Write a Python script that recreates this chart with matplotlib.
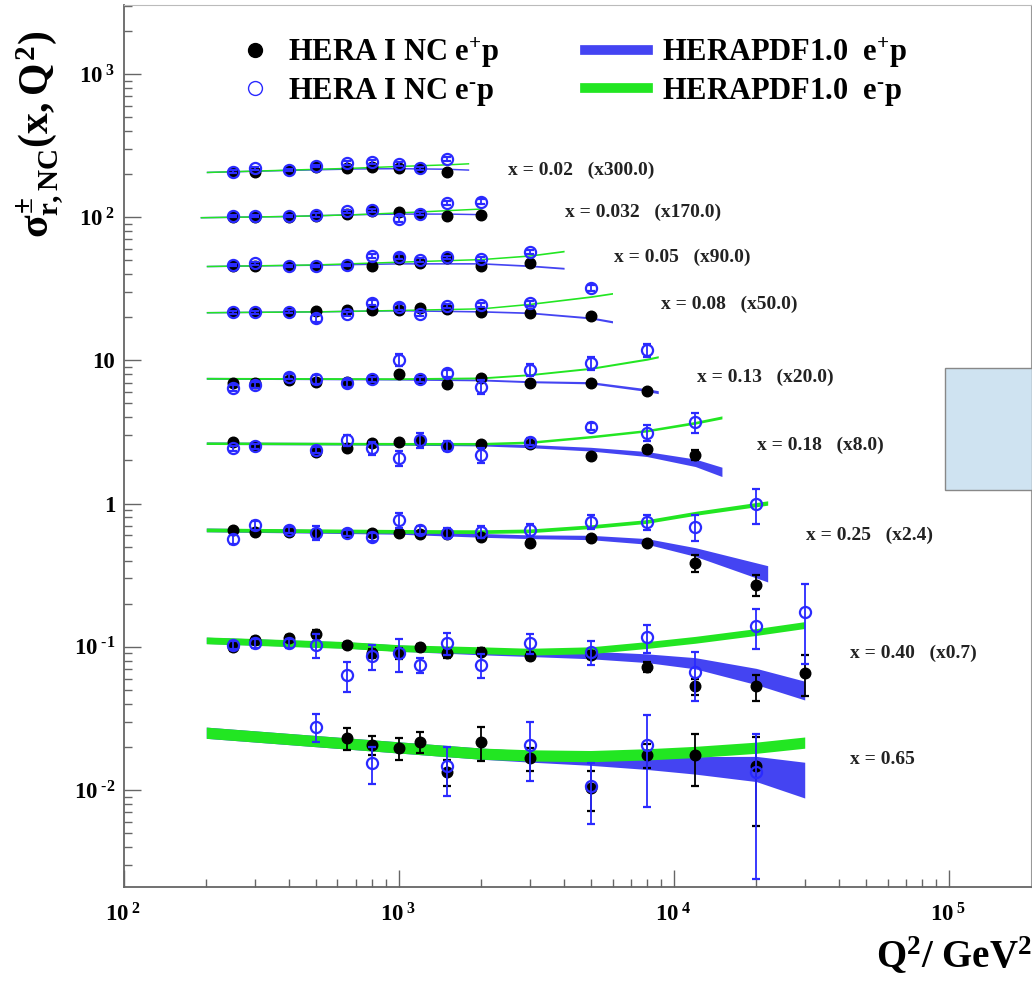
import matplotlib
matplotlib.use("Agg")
import numpy as np
import matplotlib.pyplot as plt
from matplotlib.lines import Line2D
from matplotlib.patches import Rectangle
from matplotlib.ticker import LogLocator, FixedLocator, NullFormatter, FuncFormatter

# ---------------- data (values as displayed, i.e. already scaled) ----------------
# x = 0.02 (x300)
Q2_002 = [250, 300, 400, 500, 650, 800, 1000, 1200, 1500]
EP_002 = [208, 208, 214, 223, 219, 223, 219, 219, 208]
EP_ERR_002 = [2, 2, 2, 3, 3, 3, 3, 3, 4]
EM_002 = [208, 219, 214, 228, 240, 244, 235, 219, 254]
EM_ERR_002 = [4, 5, 4, 5, 7, 7, 8, 7, 8]
CQ_002 = [200, 400, 700, 1000, 1500, 1800]
CEP_002 = [207, 214, 219, 220, 218, 215]
CEM_002 = [207, 215, 222, 228, 234, 238]
WEP_002 = [0.012, 0.012, 0.012, 0.012, 0.012, 0.012]
WEM_002 = [0.012, 0.012, 0.012, 0.012, 0.012, 0.012]

# x = 0.032 (x170)
Q2_0032 = [250, 300, 400, 500, 650, 800, 1000, 1200, 1500, 2000]
EP_0032 = [101, 101, 101, 102, 105, 110, 109, 106, 102, 104]
EP_ERR_0032 = [1.5, 1.5, 1.5, 1.5, 1.5, 2, 2, 2, 2, 2]
EM_0032 = [102, 102, 102, 104, 110, 112, 97, 106, 125, 128]
EM_ERR_0032 = [2, 2, 2, 3, 3, 3, 5, 3, 4, 5]
CQ_0032 = [190, 400, 700, 1000, 1500, 2000]
CEP_0032 = [100, 102, 105, 106, 106, 105]
CEM_0032 = [100, 102, 105, 108, 112, 115]
WEP_0032 = [0.012, 0.012, 0.012, 0.012, 0.012, 0.012]
WEM_0032 = [0.012, 0.012, 0.012, 0.012, 0.012, 0.012]

# x = 0.05 (x90)
Q2_005 = [250, 300, 400, 500, 650, 800, 1000, 1200, 1500, 2000, 3000]
EP_005 = [45.6, 45.6, 45.6, 45.6, 46.4, 45.6, 50.8, 48.1, 51.6, 45.6, 48.1]
EP_ERR_005 = [0.7, 0.7, 0.7, 0.7, 0.7, 0.8, 0.9, 0.9, 0.9, 1.0, 1.0]
EM_005 = [46.4, 47.6, 45.6, 45.6, 46.4, 53.6, 53.0, 50.2, 52.5, 51.1, 57.4]
EM_ERR_005 = [1.0, 1.0, 1.0, 1.0, 1.0, 1.5, 2.0, 1.5, 1.5, 1.5, 2.0]
CQ_005 = [200, 500, 1000, 2000, 3000, 4000]
CEP_005 = [45.6, 46.6, 47.6, 47.6, 45.8, 44.0]
CEM_005 = [45.6, 46.8, 48.9, 51.0, 54.0, 58.0]
WEP_005 = [0.012, 0.012, 0.012, 0.013, 0.014, 0.015]
WEM_005 = [0.012, 0.012, 0.012, 0.012, 0.013, 0.014]

# x = 0.08 (x50)
Q2_008 = [250, 300, 400, 500, 650, 800, 1000, 1200, 1500, 2000, 3000, 5000]
EP_008 = [21.7, 21.7, 21.9, 22.2, 22.5, 22.5, 22.5, 23.1, 22.7, 21.9, 21.5, 20.4]
EP_ERR_008 = [0.3, 0.3, 0.3, 0.4, 0.4, 0.4, 0.4, 0.4, 0.4, 0.4, 0.5, 0.6]
EM_008 = [21.7, 21.7, 21.9, 19.7, 21.1, 25.3, 23.7, 21.1, 24.1, 24.4, 25.1, 32.2]
EM_ERR_008 = [0.5, 0.5, 0.5, 1.2, 0.8, 1.0, 1.2, 0.8, 0.8, 0.8, 1.0, 1.5]
CQ_008 = [200, 500, 1000, 2000, 3000, 5000, 6000]
CEP_008 = [21.7, 22.0, 22.4, 22.0, 21.5, 19.8, 18.6]
CEM_008 = [21.7, 22.0, 22.5, 23.1, 24.8, 27.9, 29.4]
WEP_008 = [0.012, 0.012, 0.012, 0.013, 0.014, 0.016, 0.018]
WEM_008 = [0.012, 0.012, 0.012, 0.012, 0.013, 0.014, 0.014]

# x = 0.13 (x20)
Q2_013 = [250, 300, 400, 500, 650, 800, 1000, 1200, 1500, 2000, 3000, 5000, 8000]
EP_013 = [6.98, 6.98, 7.30, 7.10, 7.10, 7.38, 8.00, 7.38, 6.81, 7.57, 6.92, 6.98, 6.11]
EP_ERR_013 = [0.15, 0.15, 0.15, 0.15, 0.15, 0.15, 0.2, 0.15, 0.15, 0.2, 0.2, 0.2, 0.25]
EM_013 = [6.38, 6.73, 7.69, 7.38, 6.92, 7.38, 10.07, 7.38, 8.13, 6.55, 8.57, 9.63, 11.8]
EM_ERR_013 = [0.3, 0.3, 0.3, 0.5, 0.4, 0.3, 1.0, 0.3, 0.5, 0.7, 0.8, 1.0, 1.2]
CQ_013 = [200, 1000, 2000, 3000, 5000, 8000, 8800]
CEP_013 = [7.5, 7.4, 7.3, 7.1, 6.98, 6.2, 6.0]
CEM_013 = [7.5, 7.45, 7.55, 7.95, 8.8, 10.2, 10.6]
WEP_013 = [0.015, 0.015, 0.015, 0.016, 0.018, 0.022, 0.024]
WEM_013 = [0.015, 0.015, 0.015, 0.015, 0.016, 0.017, 0.017]

# x = 0.18 (x8)
Q2_018 = [250, 300, 500, 650, 800, 1000, 1200, 1500, 2000, 3000, 5000, 8000, 12000]
EP_018 = [2.70, 2.52, 2.30, 2.43, 2.64, 2.70, 2.74, 2.52, 2.61, 2.61, 2.15, 2.39, 2.18]
EP_ERR_018 = [0.08, 0.08, 0.12, 0.1, 0.08, 0.08, 0.1, 0.08, 0.08, 0.08, 0.08, 0.12, 0.18]
EM_018 = [2.43, 2.52, 2.37, 2.78, 2.43, 2.07, 2.78, 2.52, 2.18, 2.70, 3.44, 3.13, 3.70]
EM_ERR_018 = [0.1, 0.1, 0.12, 0.25, 0.25, 0.25, 0.35, 0.2, 0.25, 0.15, 0.2, 0.4, 0.6]
CQ_018 = [200, 1000, 2000, 3000, 5000, 8000, 12000, 15000]
CEP_018 = [2.64, 2.61, 2.58, 2.52, 2.40, 2.22, 1.93, 1.67]
CEM_018 = [2.64, 2.62, 2.62, 2.68, 2.93, 3.23, 3.67, 4.0]
WEP_018 = [0.02, 0.02, 0.02, 0.025, 0.03, 0.04, 0.06, 0.075]
WEM_018 = [0.02, 0.02, 0.02, 0.02, 0.02, 0.02, 0.022, 0.024]

# x = 0.25 (x2.4)
Q2_025 = [250, 300, 400, 500, 650, 800, 1000, 1200, 1500, 2000, 3000, 5000, 8000, 12000, 20000]
EP_025 = [0.655, 0.637, 0.637, 0.627, 0.621, 0.621, 0.627, 0.611, 0.614, 0.587, 0.533, 0.573, 0.533, 0.385, 0.270]
EP_ERR_025 = [0.02, 0.02, 0.02, 0.03, 0.02, 0.02, 0.02, 0.02, 0.02, 0.02, 0.02, 0.02, 0.025, 0.05, 0.045]
EM_025 = [0.564, 0.709, 0.655, 0.627, 0.627, 0.587, 0.767, 0.655, 0.621, 0.637, 0.655, 0.748, 0.748, 0.690, 0.99]
EM_ERR_025 = [0.04, 0.05, 0.03, 0.07, 0.03, 0.04, 0.09, 0.04, 0.05, 0.06, 0.06, 0.08, 0.09, 0.14, 0.27]
CQ_025 = [200, 1000, 2000, 3000, 5000, 8000, 12000, 22000]
CEP_025 = [0.655, 0.63, 0.60, 0.587, 0.58, 0.545, 0.46, 0.326]
CEM_025 = [0.655, 0.64, 0.637, 0.645, 0.69, 0.75, 0.855, 1.01]
WEP_025 = [0.03, 0.03, 0.03, 0.03, 0.035, 0.045, 0.07, 0.13]
WEM_025 = [0.03, 0.03, 0.03, 0.03, 0.03, 0.03, 0.032, 0.035]

# x = 0.40 (x0.7)
Q2_040 = [250, 300, 400, 500, 650, 800, 1000, 1200, 1500, 2000, 3000, 5000, 8000, 12000, 20000, 30000]
EP_040 = [0.100, 0.111, 0.115, 0.123, 0.103, 0.090, 0.090, 0.099, 0.090, 0.0925, 0.0863, 0.0877, 0.0726, 0.053, 0.053, 0.066]
EP_ERR_040 = [0.006, 0.006, 0.006, 0.008, 0.005, 0.006, 0.008, 0.006, 0.006, 0.005, 0.005, 0.006, 0.006, 0.007, 0.011, 0.021]
EM_040 = [0.103, 0.106, 0.106, 0.103, 0.0636, 0.0863, 0.090, 0.0746, 0.106, 0.0746, 0.106, 0.0925, 0.117, 0.067, 0.140, 0.176]
EM_ERR_040 = [0.006, 0.008, 0.008, 0.02, 0.015, 0.017, 0.023, 0.009, 0.019, 0.014, 0.017, 0.018, 0.026, 0.025, 0.044, 0.1]
CQ_040 = [200, 650, 1000, 2000, 3000, 5000, 8000, 12000, 20000, 30000]
CEP_040 = [0.111, 0.103, 0.098, 0.0925, 0.090, 0.0877, 0.0834, 0.077, 0.0625, 0.050]
CEM_040 = [0.111, 0.103, 0.098, 0.0947, 0.0925, 0.0947, 0.103, 0.112, 0.127, 0.142]
WEP_040 = [0.05, 0.05, 0.05, 0.05, 0.05, 0.06, 0.07, 0.09, 0.13, 0.15]
WEM_040 = [0.055, 0.055, 0.055, 0.055, 0.055, 0.055, 0.055, 0.055, 0.055, 0.055]

# x = 0.65 (x1)
Q2EP_065 = [650, 800, 1000, 1200, 1500, 2000, 3000, 5000, 8000, 12000, 20000]
EP_065 = [0.0230, 0.0206, 0.0196, 0.0217, 0.0134, 0.0217, 0.0166, 0.0103, 0.0176, 0.0176, 0.0146]
EP_ERR_065 = [0.004, 0.0031, 0.0034, 0.0036, 0.0027, 0.0057, 0.003, 0.0032, 0.0033, 0.007, 0.009]
Q2EM_065 = [500, 800, 1500, 3000, 5000, 8000, 20000]
EM_065 = [0.0277, 0.0155, 0.0146, 0.0206, 0.0106, 0.0206, 0.0134]
EM_ERR_065 = [0.006, 0.0045, 0.0055, 0.009, 0.0048, 0.013, 0.011]
CQ_065 = [200, 1000, 2000, 3000, 5000, 8000, 12000, 20000, 30000]
CEP_065 = [0.0252, 0.0199, 0.0180, 0.0172, 0.0165, 0.0158, 0.0150, 0.0143, 0.0122]
CEM_065 = [0.0252, 0.0199, 0.0180, 0.0175, 0.0173, 0.0178, 0.0185, 0.0198, 0.0215]
WEP_065 = [0.09, 0.09, 0.09, 0.09, 0.10, 0.12, 0.14, 0.20, 0.28]
WEM_065 = [0.09, 0.09, 0.09, 0.09, 0.09, 0.09, 0.09, 0.09, 0.09]

BIN_LABELS = ["x = 0.02   (x300.0)", "x = 0.032   (x170.0)", "x = 0.05   (x90.0)",
              "x = 0.08   (x50.0)", "x = 0.13   (x20.0)", "x = 0.18   (x8.0)",
              "x = 0.25   (x2.4)", "x = 0.40   (x0.7)", "x = 0.65"]
LEGEND_LABELS = [r"HERA I NC e$^{+}$p", r"HERA I NC e$^{\text{-}}$p",
                 r"HERAPDF1.0  e$^{+}$p", r"HERAPDF1.0  e$^{\text{-}}$p"]

# ---------------- style ----------------
plt.rcParams['font.family'] = ['Liberation Serif', 'DejaVu Serif']
plt.rcParams['font.weight'] = 'bold'
plt.rcParams['mathtext.fontset'] = 'custom'
plt.rcParams['mathtext.rm'] = 'Liberation Serif:bold'
plt.rcParams['mathtext.it'] = 'Liberation Serif:bold'
plt.rcParams['mathtext.bf'] = 'Liberation Serif:bold'
plt.rcParams['mathtext.sf'] = 'Liberation Serif:bold'

BLUE_BAND = '#4444f2'
GREEN_BAND = '#22e622'
BLUE_PT = '#2a2aff'

bins = [
    (Q2_002, EP_002, EP_ERR_002, Q2_002, EM_002, EM_ERR_002, CQ_002, CEP_002, CEM_002, WEP_002, WEM_002),
    (Q2_0032, EP_0032, EP_ERR_0032, Q2_0032, EM_0032, EM_ERR_0032, CQ_0032, CEP_0032, CEM_0032, WEP_0032, WEM_0032),
    (Q2_005, EP_005, EP_ERR_005, Q2_005, EM_005, EM_ERR_005, CQ_005, CEP_005, CEM_005, WEP_005, WEM_005),
    (Q2_008, EP_008, EP_ERR_008, Q2_008, EM_008, EM_ERR_008, CQ_008, CEP_008, CEM_008, WEP_008, WEM_008),
    (Q2_013, EP_013, EP_ERR_013, Q2_013, EM_013, EM_ERR_013, CQ_013, CEP_013, CEM_013, WEP_013, WEM_013),
    (Q2_018, EP_018, EP_ERR_018, Q2_018, EM_018, EM_ERR_018, CQ_018, CEP_018, CEM_018, WEP_018, WEM_018),
    (Q2_025, EP_025, EP_ERR_025, Q2_025, EM_025, EM_ERR_025, CQ_025, CEP_025, CEM_025, WEP_025, WEM_025),
    (Q2_040, EP_040, EP_ERR_040, Q2_040, EM_040, EM_ERR_040, CQ_040, CEP_040, CEM_040, WEP_040, WEM_040),
    (Q2EP_065, EP_065, EP_ERR_065, Q2EM_065, EM_065, EM_ERR_065, CQ_065, CEP_065, CEM_065, WEP_065, WEM_065),
]
LABEL_POS = [(0.4237, 0.8129), (0.4865, 0.7653), (0.5405, 0.7143), (0.5923, 0.6610),
             (0.6320, 0.5782), (0.6981, 0.5011), (0.7521, 0.3991), (0.8006, 0.2653),
             (0.8006, 0.1440)]

fig = plt.figure(figsize=(10.32, 9.81), dpi=100)
ax = fig.add_axes([123.5 / 1032, 94 / 981, 907.5 / 1032, 882 / 981])
ax.set_xscale('log')
ax.set_yscale('log')
ax.set_xlim(100, 1.995e5)
ax.set_ylim(0.0021, 3034)

for (qp, ep, epe, qm, em, eme, cq, cep, cem, wep, wem) in bins:
    cq = np.array(cq, float)
    cep = np.array(cep, float); cem = np.array(cem, float)
    wep = np.array(wep, float); wem = np.array(wem, float)
    ax.fill_between(cq, cep * (1 - wep), cep * (1 + wep), color=BLUE_BAND, lw=0, zorder=2)
    ax.fill_between(cq, cem * (1 - wem), cem * (1 + wem), color=GREEN_BAND, lw=0, zorder=3)
    ax.errorbar(qp, ep, yerr=epe, fmt='o', color='black', ms=7.6, elinewidth=1.3,
                capsize=3, capthick=1.6, zorder=4)
    ax.errorbar(qm, em, yerr=eme, fmt='o', color=BLUE_PT, mfc='none', mec=BLUE_PT,
                ms=8, mew=1.6, elinewidth=1.3, capsize=3, capthick=1.6, zorder=5)

for lab, (fx, fy) in zip(BIN_LABELS, LABEL_POS):
    ax.text(fx, fy, lab, transform=ax.transAxes, fontsize=14, fontweight='bold',
            color='#222222', ha='left', va='center')

# legends
h1 = Line2D([], [], ls='none', marker='o', color='black', ms=10)
h2 = Line2D([], [], ls='none', marker='o', mfc='none', mec=BLUE_PT, ms=10, mew=1.0)
h3 = Line2D([], [], color=BLUE_BAND, lw=7)
h4 = Line2D([], [], color=GREEN_BAND, lw=7)
leg1 = ax.legend([h1, h2], LEGEND_LABELS[:2], loc='upper left', bbox_to_anchor=(0.1289, 0.9655),
                 frameon=False, fontsize=22, handlelength=0.95, handletextpad=0.62,
                 labelspacing=0.2, borderpad=0, borderaxespad=0)
ax.add_artist(leg1)
ax.legend([h3, h4], LEGEND_LABELS[2:], loc='upper left', bbox_to_anchor=(0.5085, 0.9655),
          frameon=False, fontsize=22, handlelength=2.07, handletextpad=0.46,
          labelspacing=0.2, borderpad=0, borderaxespad=0)

# axes and ticks
for side in ['left', 'bottom']:
    ax.spines[side].set_color('#666666')
    ax.spines[side].set_linewidth(1.3)
ax.spines['top'].set_color('#bbbbbb')
ax.spines['right'].set_color('#999999')

ax.xaxis.set_major_locator(FixedLocator([1e2, 1e3, 1e4, 1e5]))
ax.xaxis.set_minor_locator(LogLocator(base=10, subs=np.arange(2, 10), numticks=30))
ax.xaxis.set_minor_formatter(NullFormatter())
ax.yaxis.set_major_locator(FixedLocator([1e-2, 1e-1, 1, 10, 1e2, 1e3]))
ax.yaxis.set_minor_locator(LogLocator(base=10, subs=np.arange(2, 10), numticks=30))
ax.yaxis.set_minor_formatter(NullFormatter())


def xfmt(v, pos):
    e = int(round(np.log10(v)))
    return r"10$^{\;%d}$" % e


def yfmt(v, pos):
    e = int(round(np.log10(v)))
    if e == 0:
        return "1"
    if e == 1:
        return "10"
    if e < 0:
        return r"10$^{\;\text{-}%d}$" % (-e)
    return r"10$^{\;%d}$" % e


ax.xaxis.set_major_formatter(FuncFormatter(xfmt))
ax.yaxis.set_major_formatter(FuncFormatter(yfmt))
ax.tick_params(which='both', direction='in', top=False, right=False, color='#666666', width=1.0)
ax.tick_params(which='major', length=12, labelsize=16.5)
ax.tick_params(which='minor', length=6)
ax.tick_params(axis='x', which='major', pad=12)
ax.tick_params(axis='y', which='major', pad=6)
for t in ax.get_xticklabels() + ax.get_yticklabels():
    t.set_fontweight('bold')

fig.text(40 / 1032, 1 - 134 / 981, r"$\sigma^{\pm}_{r,NC}(x,Q^{2})$", rotation=90,
         ha='center', va='center', fontsize=30)
fig.text(1.0, (981 - 968) / 981, r"Q$^{2}$/ GeV$^{2}$", ha='right', va='baseline',
         fontsize=28, fontweight='bold')

fig.add_artist(Rectangle((945 / 1032, (981 - 490) / 981), 87 / 1032, 122 / 981,
                         transform=fig.transFigure, facecolor='#cfe3f1',
                         edgecolor='#888888', lw=1.0, zorder=10))

fig.savefig('out.png', dpi=100)
